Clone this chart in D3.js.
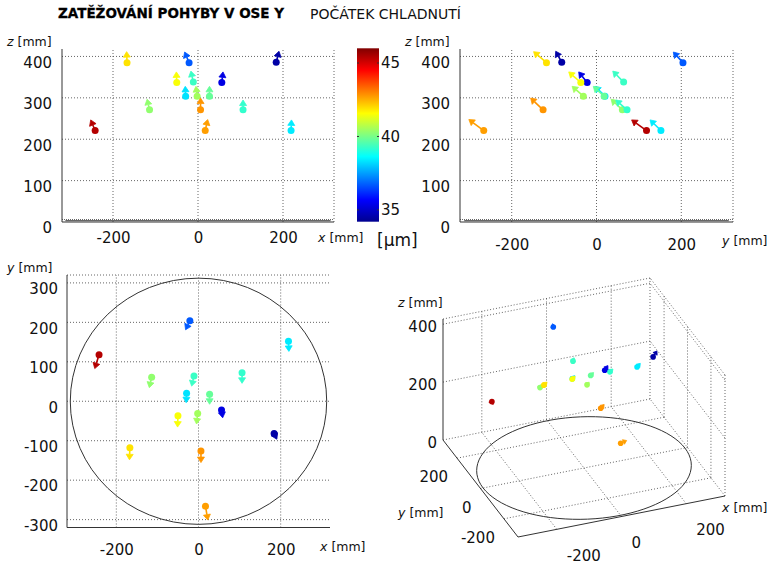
<!DOCTYPE html>
<html>
<head>
<meta charset="utf-8">
<script src="https://cdn.jsdelivr.net/npm/d3@7"></script>
<style>
body { margin: 0; background: #fff; }
svg { font-family: "DejaVu Sans", Verdana, sans-serif; }
.grid { stroke: #555; stroke-width: 0.9; stroke-dasharray: 1,2; fill: none; }
.ax { stroke: #333; stroke-width: 1; fill: none; }
.lab { font-size: 12.5px; fill: #111; }
.tk { font-size: 15px; fill: #111; }
</style>
</head>
<body>
<svg width="770" height="566"></svg>
<script>
// measuring points: position [mm]
var ptX = [-21, 219, -242, -114, -11, 106, -29, 27, 56, -50, -2, 184, -167, 6, 17];
var ptY = [204, 152, 118, 61, 64, 72, 20, 18, -22, -37, -31, -82, -118, -126, -266];
var ptZ = [385, 221, 221, 271, 338, 271, 304, 304, 337, 337, 304, 386, 385, 271, 221];
// displacement [um]
var dispX = [-11, 1, -11, -6, -6, 0, -1, 0, 3, -1, -3, 7, -1, 0, 6];
var dispY = [-24, -27, -37, -28, -27, -28, -25, -27, -21, -30, -28, -15, -32, -31, -37];
var dispZ = [27, 27, 27, 27, 28, 25, 25, 25, 27, 27, 25, 28, 28, 30, 28];
// colour value [um]
var colorVal = [36.7, 38.4, 45.4, 40.3, 39.3, 39.2, 38.3, 39.8, 35.3, 41.5, 40.5, 34.5, 41.9, 42.8, 42.7];

var planTicks = [-200, 0, 200];
var zTicks = [0, 100, 200, 300, 400];
var zTicks3 = [0, 200, 400];
var yTicksXY = [-300, -200, -100, 0, 100, 200, 300];
var cbTicks = [35, 40, 45];
var cbDomain = [34.2, 46];
var R = 312;   // table radius
var k = 0.95;  // mm of plot per um

var svg = d3.select("svg");
var idx = d3.range(ptX.length);

var jet = d3.scaleLinear()
    .domain([0, 0.125, 0.375, 0.625, 0.875, 1])
    .range(["#00008f", "#0000ff", "#00ffff", "#ffff00", "#ff0000", "#800000"])
    .clamp(true);
var cbT = d3.scaleLinear().domain(cbDomain).range([0, 1]);
var color = function(v) { return jet(cbT(v)); };

function label(x, y, letter) {
    var t = svg.append("text").attr("class", "lab").attr("x", x).attr("y", y);
    t.append("tspan").style("font-style", "italic").text(letter);
    t.append("tspan").text(" [mm]");
}

function arrows(g, start, end, r, L, w) {
    idx.forEach(function(i) {
        var a = start(i), b = end(i), c = color(colorVal[i]);
        var dx = b[0] - a[0], dy = b[1] - a[1];
        var len = Math.hypot(dx, dy) || 1;
        var ux = dx / len, uy = dy / len;
        var base = [b[0] - ux * L, b[1] - uy * L];
        g.append("line")
            .attr("x1", a[0]).attr("y1", a[1]).attr("x2", base[0]).attr("y2", base[1])
            .attr("stroke", c).attr("stroke-width", 1.6);
        g.append("polygon")
            .attr("points", [b, [base[0] - uy * w, base[1] + ux * w], [base[0] + uy * w, base[1] - ux * w]]
                .map(function(p) { return p.join(","); }).join(" "))
            .attr("fill", c).attr("stroke", c).attr("stroke-width", 0.8).attr("stroke-linejoin", "round");
        g.append("circle").attr("cx", a[0]).attr("cy", a[1]).attr("r", r).attr("fill", c);
    });
}

function bottomAxis(g, scale, y, pad) {
    g.append("g").attr("transform", "translate(0," + y + ")")
        .call(d3.axisBottom(scale).tickValues(planTicks).tickSize(0).tickPadding(pad)
            .tickFormat(function(d) { return String(d); }))
        .call(function(s) { s.select(".domain").remove(); })
        .attr("font-size", null).attr("font-family", null)
        .selectAll("text").attr("class", "tk");
}

function leftAxis(g, scale, x, ticks) {
    g.append("g").attr("transform", "translate(" + x + ",0)")
        .call(d3.axisLeft(scale).tickValues(ticks).tickSize(0).tickPadding(5)
            .tickFormat(function(d) { return String(d); }))
        .call(function(s) { s.select(".domain").remove(); })
        .attr("font-size", null).attr("font-family", null)
        .selectAll("text").attr("class", "tk").attr("y", 6);
}

// side views (x-z and y-z)
function sideView(hs, H, dH, axisName, labelX, labelY, tickPad) {
    var zs = d3.scaleLinear().domain([0, 418]).range([222, 49]);
    var g = svg.append("g");
    var x0 = hs.range()[0], x1 = hs.range()[1];
    g.selectAll(".gh").data(zTicks.slice(1)).enter().append("line").attr("class", "grid")
        .attr("x1", x0).attr("x2", x1).attr("y1", zs).attr("y2", zs);
    g.selectAll(".gv").data(planTicks.concat([hs.domain()[1]])).enter().append("line").attr("class", "grid")
        .attr("x1", hs).attr("x2", hs).attr("y1", zs(0)).attr("y2", zs.range()[1]);
    // floor grid and table seen edge-on
    g.append("line").attr("class", "grid").style("stroke-dasharray", "1,1")
        .attr("x1", x0).attr("x2", x1).attr("y1", zs(0) - 2.5).attr("y2", zs(0) - 2.5);
    g.append("line").attr("stroke", "#444").attr("stroke-width", 1)
        .attr("x1", hs(-R)).attr("x2", hs(R)).attr("y1", zs(0) - 1.3).attr("y2", zs(0) - 1.3);
    g.append("line").attr("class", "ax").attr("x1", x0).attr("x2", x1).attr("y1", zs(0)).attr("y2", zs(0));
    g.append("line").attr("class", "ax").attr("x1", x0).attr("x2", x0).attr("y1", zs(0)).attr("y2", zs.range()[1]);
    arrows(g,
        function(i) { return [hs(H[i]), zs(ptZ[i])]; },
        function(i) { return [hs(H[i] + k * dH[i]), zs(ptZ[i] + k * dispZ[i])]; },
        3.5, 5.5, 3.5);
    bottomAxis(g, hs, zs(0), tickPad);
    leftAxis(g, zs, x0 - 5, zTicks);
    label(x0 - 55, 46, "z");
    label(labelX, labelY, axisName);
}

sideView(d3.scaleLinear().domain([-320, 320]).range([62, 334]), ptX, dispX, "x", 318, 242, 10);
sideView(d3.scaleLinear().domain([-322, 322]).range([460, 733]), ptY, dispY, "y", 722, 245, 17);

// plan view (x-y)
(function() {
    var xs = d3.scaleLinear().domain([-320, 320]).range([67, 330]);
    var ys = d3.scaleLinear().domain([-320, 320]).range([527.5, 275]);
    var g = svg.append("g");
    g.selectAll(".gh").data(yTicksXY.concat([320])).enter().append("line").attr("class", "grid")
        .attr("x1", xs(-320)).attr("x2", xs(320)).attr("y1", ys).attr("y2", ys);
    g.selectAll(".gv").data(planTicks).enter().append("line").attr("class", "grid")
        .attr("x1", xs).attr("x2", xs).attr("y1", ys(-320)).attr("y2", ys(320));
    g.append("ellipse").attr("cx", xs(0)).attr("cy", ys(0))
        .attr("rx", xs(R) - xs(0)).attr("ry", ys(0) - ys(R))
        .attr("fill", "none").attr("stroke", "#333").attr("stroke-width", 1);
    g.append("line").attr("class", "ax").attr("x1", xs(-320)).attr("x2", xs(320)).attr("y1", ys(-320)).attr("y2", ys(-320));
    g.append("line").attr("class", "ax").attr("x1", xs(-320)).attr("x2", xs(-320)).attr("y1", ys(-320)).attr("y2", ys(320));
    arrows(g,
        function(i) { return [xs(ptX[i]), ys(ptY[i])]; },
        function(i) { return [xs(ptX[i] + k * dispX[i]), ys(ptY[i] + k * dispY[i])]; },
        3.5, 5.5, 3.5);
    bottomAxis(g, xs, ys(-320), 17);
    leftAxis(g, ys, xs(-320) - 4, yTicksXY);
    label(7, 272, "y");
    label(320, 551, "x");
})();

// 3D view
(function() {
    var a3 = d3.scaleLinear().domain([-320, 320]).range([0, 1]);
    var b3 = d3.scaleLinear().domain([-320, 320]).range([0, 1]);
    var c3 = d3.scaleLinear().domain([0, 418]).range([0, 1]);
    var P0 = [518, 537], EX = [207, -41], EY = [-75, -97], EZ = [0, -121];
    function proj(x, y, z) {
        var a = a3(x), b = b3(y), c = c3(z);
        return [P0[0] + a * EX[0] + b * EY[0] + c * EZ[0], P0[1] + a * EX[1] + b * EY[1] + c * EZ[1]];
    }
    var g = svg.append("g");
    var seg = function(p, q, cls) {
        var A = proj.apply(null, p), B = proj.apply(null, q);
        g.append("line").attr("class", cls).attr("x1", A[0]).attr("y1", A[1]).attr("x2", B[0]).attr("y2", B[1]);
    };
    var lo = -320, hi = 320, zt = 418;
    // floor grid
    planTicks.forEach(function(v) {
        seg([v, lo, 0], [v, hi, 0], "grid");
        seg([lo, v, 0], [hi, v, 0], "grid");
    });
    // back walls
    planTicks.concat([hi]).forEach(function(v) {
        seg([v, hi, 0], [v, hi, zt], "grid");
    });
    planTicks.concat([lo]).forEach(function(v) {
        seg([hi, v, 0], [hi, v, zt], "grid");
    });
    zTicks3.concat([zt]).forEach(function(z) {
        seg([lo, hi, z], [hi, hi, z], "grid");
        seg([hi, lo, z], [hi, hi, z], "grid");
    });
    // axes
    seg([lo, lo, 0], [hi, lo, 0], "ax");
    seg([lo, lo, 0], [lo, hi, 0], "ax");
    seg([lo, hi, 0], [lo, hi, zt], "ax");
    // table outline
    var ring = d3.range(0, 361, 4).map(function(t) {
        var r = t * Math.PI / 180;
        return proj(R * Math.cos(r), R * Math.sin(r), 0);
    });
    g.append("path").attr("d", d3.line()(ring)).attr("fill", "none").attr("stroke", "#333").attr("stroke-width", 1);
    arrows(g,
        function(i) { return proj(ptX[i], ptY[i], ptZ[i]); },
        function(i) { return proj(ptX[i] + k * dispX[i], ptY[i] + k * dispY[i], ptZ[i] + k * dispZ[i]); },
        2.8, 3.5, 2.5);
    // tick labels
    planTicks.forEach(function(v) {
        var p = proj(v, lo, 0);
        g.append("text").attr("class", "tk").attr("x", p[0] + 10).attr("y", p[1] + 26).attr("dy", "0.35em").text(String(v));
        var q = proj(lo, v, 0);
        g.append("text").attr("class", "tk").attr("text-anchor", "end").attr("x", q[0] - 9).attr("y", q[1] + 19).attr("dy", "0.35em").text(String(v));
    });
    zTicks3.forEach(function(z) {
        var p = proj(lo, hi, z);
        g.append("text").attr("class", "tk").attr("text-anchor", "end").attr("x", p[0] - 6).attr("y", p[1] + 3).attr("dy", "0.35em").text(String(z));
    });
    label(398, 307, "z");
    label(398, 517, "y");
    label(722, 512, "x");
})();

// colour bar
(function() {
    var cs = d3.scaleLinear().domain(cbDomain).range([221.7, 48.3]);
    var grad = svg.append("defs").append("linearGradient").attr("id", "jet")
        .attr("x1", 0).attr("y1", 1).attr("x2", 0).attr("y2", 0);
    d3.range(0, 1.0001, 0.125).forEach(function(t) {
        grad.append("stop").attr("offset", t).attr("stop-color", jet(t));
    });
    svg.append("rect").attr("x", 357).attr("y", cs(cbDomain[1])).attr("width", 22)
        .attr("height", cs(cbDomain[0]) - cs(cbDomain[1])).attr("fill", "url(#jet)");
    var t = svg.append("g").selectAll("g").data(cbTicks).enter().append("g");
    t.append("line").attr("x1", 357).attr("x2", 359).attr("y1", cs).attr("y2", cs).attr("stroke", "#333");
    t.append("line").attr("x1", 377).attr("x2", 379).attr("y1", cs).attr("y2", cs).attr("stroke", "#333");
    t.append("text").attr("class", "tk").attr("x", 381).attr("y", cs).attr("dy", "0.35em").text(String);
    svg.append("text").attr("x", 377).attr("y", 246).style("font-size", "17px").attr("fill", "#111").text("[μm]");
})();

// titles
svg.append("text").attr("x", 58).attr("y", 18).style("font-size", "13.5px").style("font-weight", "bold")
    .attr("fill", "#000").attr("stroke", "#000").attr("stroke-width", 0.3).text("ZATĚŽOVÁNÍ POHYBY V OSE Y");
svg.append("text").attr("x", 310).attr("y", 19).style("font-size", "14px")
    .attr("fill", "#111").text("POČÁTEK CHLADNUTÍ");
</script>
</body>
</html>
